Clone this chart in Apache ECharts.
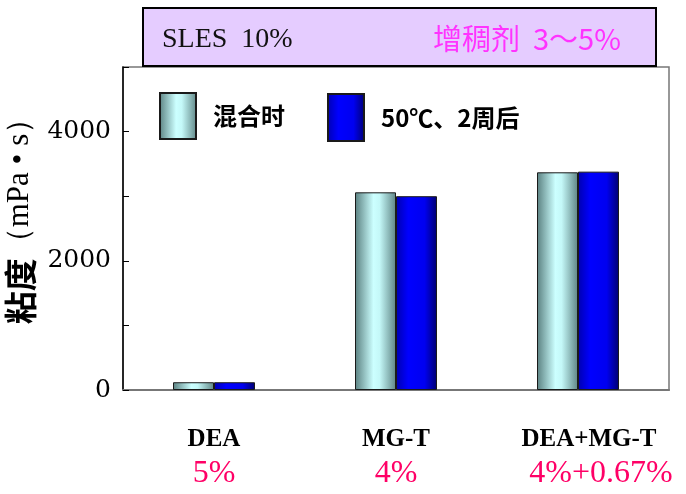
<!DOCTYPE html>
<html>
<head>
<meta charset="utf-8">
<script src="https://cdn.jsdelivr.net/npm/echarts@6/dist/echarts.min.js"></script>
<style>
html,body{margin:0;padding:0;background:#fff;}
#c{width:686px;height:494px;}
</style>
</head>
<body>
<div id="c"></div>
<script>
var categories = ['DEA', 'MG-T', 'DEA+MG-T'];
var percents = ['5%', '4%', '4%+0.67%'];
var seriesNames = ['混合时', '50℃、2周后'];
var mixValues = [120, 3060, 3370];
var afterValues = [120, 3000, 3380];
var yTickLabels = ['0', '2000', '4000'];

var chart = echarts.init(document.getElementById('c'), null, {renderer: 'canvas'});

var grad1 = new echarts.graphic.LinearGradient(0, 0, 1, 0, [
  {offset: 0, color: '#5a8080'},
  {offset: 0.45, color: '#ccffff'},
  {offset: 0.6, color: '#c4f8f8'},
  {offset: 1, color: '#5f8585'}
]);
var grad2 = new echarts.graphic.LinearGradient(0, 0, 1, 0, [
  {offset: 0, color: '#0000b0'},
  {offset: 0.3, color: '#0000ff'},
  {offset: 0.7, color: '#0000f0'},
  {offset: 1, color: '#000070'}
]);

var option = {
  backgroundColor: '#ffffff',
  animation: false,
  grid: {
    left: 123, top: 67, right: 17, bottom: 104,
    containLabel: false, outerBoundsMode: 'none',
    show: true, borderColor: '#777777', borderWidth: 1.5, backgroundColor: 'transparent'
  },
  legend: [
    {
      left: 154, top: 87, itemWidth: 36, itemHeight: 46, icon: 'rect',
      data: [seriesNames[0]], selectedMode: false,
      textStyle: {fontFamily: 'Noto Sans CJK SC', fontWeight: 'bold', fontSize: 24, color: '#000', padding: [0, 0, 0, 12]}
    },
    {
      left: 322, top: 88, itemWidth: 36, itemHeight: 47, icon: 'rect',
      data: [seriesNames[1]], selectedMode: false,
      textStyle: {fontFamily: 'Noto Sans CJK SC', fontWeight: 'bold', fontSize: 24, color: '#000', padding: [0, 0, 0, 12]}
    }
  ],
  xAxis: {
    type: 'category',
    data: categories,
    axisLine: {lineStyle: {color: '#777777', width: 2}},
    axisTick: {show: false},
    axisLabel: {
      margin: 33,
      interval: 0,
      formatter: function (v, i) {
        var s = i === 2 ? '2' : '';
        return '{n' + s + '|' + v + '}\n{p' + s + '|' + percents[i] + '}';
      },
      rich: {
        n: {fontFamily: 'Liberation Serif', fontWeight: 'bold', fontSize: 25, color: '#000', lineHeight: 34},
        p: {fontFamily: 'Liberation Serif', fontSize: 32, color: '#ff0066', lineHeight: 34},
        n2: {fontFamily: 'Liberation Serif', fontWeight: 'bold', fontSize: 25, color: '#000', lineHeight: 34, padding: [0, 0, 0, 22]},
        p2: {fontFamily: 'Liberation Serif', fontSize: 32, color: '#ff0066', lineHeight: 34, padding: [0, 0, 0, 46]}
      }
    }
  },
  yAxis: {
    type: 'value',
    min: 0, max: 5000, interval: 1000,
    name: '{a|粘度}{b|（mPa • s）}',
    nameLocation: 'middle',
    nameRotate: 90,
    nameGap: 78,
    nameTextStyle: {
      padding: [0, 0, 0, 30],
      rich: {
        a: {fontFamily: 'Noto Sans CJK SC', fontWeight: 'bold', fontSize: 33, color: '#000'},
        b: {fontFamily: 'Liberation Serif', fontSize: 31, color: '#000'}
      }
    },
    axisLine: {show: true, lineStyle: {color: '#000', width: 1.5}},
    axisTick: {show: true, inside: true, length: 6, lineStyle: {color: '#000', width: 1}},
    splitLine: {show: false},
    axisLabel: {
      margin: 12,
      fontFamily: 'DejaVu Serif', fontSize: 25, color: '#000',
      formatter: function (v) {
        var s = String(v);
        return yTickLabels.indexOf(s) >= 0 ? s : '';
      }
    }
  },
  series: [
    {
      name: seriesNames[0], type: 'bar', data: mixValues,
      barWidth: 41, barGap: '0%',
      itemStyle: {color: grad1, borderColor: '#1a1a1a', borderWidth: 1}
    },
    {
      name: seriesNames[1], type: 'bar', data: afterValues,
      barWidth: 41, barGap: '0%',
      itemStyle: {color: grad2, borderColor: '#1a1a1a', borderWidth: 1}
    }
  ],
  graphic: [
    {
      type: 'rect', left: 142, top: 7,
      shape: {width: 513, height: 58},
      style: {fill: '#e5ccff', stroke: '#000', lineWidth: 2},
      z: 10
    },
    {
      type: 'text', left: 162, top: 26,
      style: {text: 'SLES  10%', font: '28px "Liberation Serif"', fill: '#111'},
      z: 11
    },
    {
      type: 'text', left: 433, top: 24,
      style: {text: '增稠剂  3～5%', font: '29px "Noto Sans CJK SC"', fill: '#ff33ff'},
      z: 11
    }
  ]
};
chart.setOption(option);
</script>
</body>
</html>
